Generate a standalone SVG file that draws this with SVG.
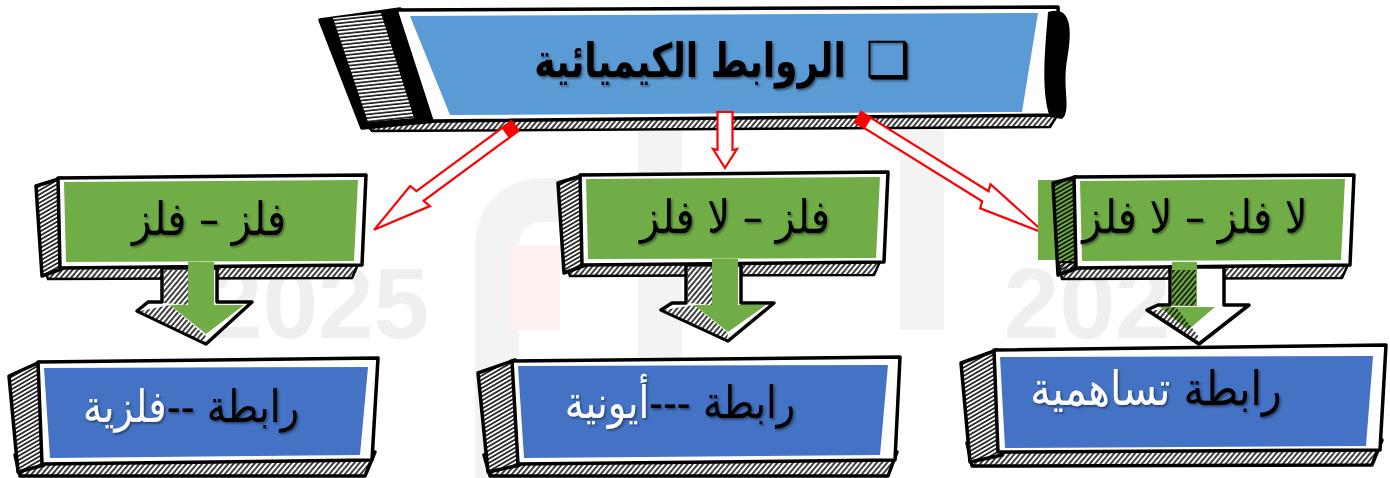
<svg xmlns="http://www.w3.org/2000/svg" width="1390" height="478" viewBox="0 0 1390 478">
<style>
.ol{stroke:#000;stroke-width:3.5;stroke-linejoin:round}
.ol2{stroke:#000;stroke-width:2.5;stroke-linejoin:round}
.wm{font-family:"Liberation Sans",Arial,sans-serif;font-weight:bold;font-size:100px;fill:#efefef}
.ar{font-family:"DejaVu Sans",sans-serif;text-anchor:middle;direction:rtl}
.gt{font-size:40px;fill:#000}
.red{fill:#fff;stroke:#ff0000;stroke-width:2.2;stroke-linejoin:miter}
</style>
<defs>
<pattern id="hh" patternUnits="userSpaceOnUse" width="8" height="3.6" patternTransform="rotate(-6)"><rect width="8" height="3.6" fill="#fff"/><line x1="0" y1="1" x2="8" y2="1" stroke="#000" stroke-width="1.5"/></pattern>
<pattern id="hs" patternUnits="userSpaceOnUse" width="8" height="3.6" patternTransform="rotate(-30)"><rect width="8" height="3.6" fill="#fff"/><line x1="0" y1="1" x2="8" y2="1" stroke="#000" stroke-width="1.5"/></pattern>
<pattern id="hst" patternUnits="userSpaceOnUse" width="8" height="3.6" patternTransform="rotate(-30)"><line x1="0" y1="1" x2="8" y2="1" stroke="#000" stroke-width="1.5"/></pattern>
<pattern id="hd" patternUnits="userSpaceOnUse" width="4" height="8" patternTransform="rotate(40)"><rect width="4" height="8" fill="#fff"/><line x1="1" y1="0" x2="1" y2="8" stroke="#000" stroke-width="1.5"/></pattern>
<pattern id="hdt" patternUnits="userSpaceOnUse" width="4" height="8" patternTransform="rotate(40)"><line x1="1" y1="0" x2="1" y2="8" stroke="#000" stroke-width="1.5"/></pattern>
<filter id="sh" x="-10%" y="-20%" width="120%" height="140%"><feDropShadow dx="1.5" dy="1.5" stdDeviation="1" flood-color="#000" flood-opacity="0.45"/></filter>
</defs>
<rect width="1390" height="478" fill="#fff"/>
<g id="watermark">
<path d="M497 478 V250 Q497 200 547 200 H655" fill="none" stroke="#f3f3f3" stroke-width="44"/>
<path d="M660 478 V130 Q660 85 705 85 H880 Q922 85 922 130 V330" fill="none" stroke="#f3f3f3" stroke-width="44"/>
<rect x="510" y="245" width="50" height="85" fill="#fdf0f0"/>
<text class="wm" x="318" y="338" text-anchor="middle">2025</text>
<text class="wm" x="1115" y="338" text-anchor="middle">2024</text>
</g>
<g id="title">
<polygon points="365,122 1058,114 1050,127 372,131" fill="url(#hd)" class="ol2"/>
<polygon points="320,20 400,9 436,121 362,128" fill="#000" class="ol"/>
<polygon points="333,18 381,13 414,118 368,122" fill="url(#hh)"/>
<polygon points="396,10 1058,7 1063,115 432,121" fill="#fff" class="ol"/>
<polygon points="410,16 1038,13 1022,112 450,115" fill="#5b9bd5"/>
<path d="M1048,12 C1068,6 1074,22 1067,60 C1062,90 1072,110 1062,119 L1050,117 C1040,90 1046,40 1048,12 Z" fill="#000"/>
<text class="ar" transform="translate(690,77) scale(1,1.3)" font-size="36" font-weight="bold" filter="url(#sh)">الروابط الكيميائية</text>
<text x="888" y="77" font-family="DejaVu Sans,sans-serif" font-size="50" text-anchor="middle" filter="url(#sh)">❑</text>
</g>
<g id="connectors">
<g transform="translate(515,126) rotate(143.6)">
<polygon class="red" points="0,-6 118,-6 116,-14 175,0 120,14 118,6 0,6"/>
<polygon points="0,-6 12,-6 12,6 0,6" fill="#ff0000"/>
</g>
<g transform="translate(725,112) rotate(90)">
<polygon class="red" points="0,-7.5 38,-7.5 37,-12 56,0 37,12 38,7.5 0,7.5"/>
</g>
<g transform="translate(858,117) rotate(31.9)">
<polygon class="red" points="0,-6 150,-6 148,-13 221,0 152,13 150,6 0,6"/>
<polygon points="0,-6 12,-6 12,6 0,6" fill="#ff0000"/>
</g>
</g>
<g id="g1">
<polygon points="42,262 360,260 352,278 48,279" fill="url(#hd)" class="ol2"/>
<polygon points="36,186 62,178 64,268 42,276" fill="url(#hs)" class="ol"/>
<polygon points="58,178 366,175 362,265 60,268" fill="#fff" class="ol"/>
<polygon points="64,182 358,180 354,261 66,262" fill="#70ad47"/>
<polygon points="162,268 217,268 217,302 252,302 206,344 137,311 148,302 162,302" fill="#fff" class="ol"/>
<polygon points="164,270 188,270 188,305 164,303" fill="url(#hd)"/>
<polygon points="140,311 170,305 206,336 205,342" fill="url(#hd)"/>
<rect x="188" y="262" width="26" height="44" fill="#70ad47"/>
<polygon points="170,305 244,305 206,334" fill="#70ad47"/>
<text class="ar gt" transform="translate(209,235) scale(1,1.15)" filter="url(#sh)">فلز  –  فلز</text>
</g>
<g id="g2">
<polygon points="564,259 882,257 874,275 570,276" fill="url(#hd)" class="ol2"/>
<polygon points="558,183 584,175 586,265 564,273" fill="url(#hs)" class="ol"/>
<polygon points="580,175 888,172 884,262 582,265" fill="#fff" class="ol"/>
<polygon points="586,179 880,177 876,258 588,259" fill="#70ad47"/>
<polygon points="686,265 741,265 741,303 774,303 728,341 661,310 672,303 686,303" fill="#fff" class="ol"/>
<polygon points="688,267 712,267 712,305 688,303" fill="url(#hd)"/>
<polygon points="664,310 694,305 728,333 727,339" fill="url(#hd)"/>
<rect x="712" y="259" width="26" height="47" fill="#70ad47"/>
<polygon points="694,305 766,305 728,332" fill="#70ad47"/>
<text class="ar gt" transform="translate(735,233) scale(1,1.15)" filter="url(#sh)">فلز – لا فلز</text>
</g>
<g id="g3">
<polygon points="1058,262 1350,260 1342,278 1062,279" fill="url(#hd)" class="ol2"/>
<rect x="1038" y="180" width="45" height="80" fill="#70ad47"/>
<polygon points="1053,183 1076,177 1078,268 1058,275" fill="url(#hst)" class="ol"/>
<polygon points="1074,177 1354,175 1350,265 1076,268" fill="#fff" class="ol"/>
<polygon points="1080,181 1345,179 1341,260 1082,261" fill="#70ad47"/>
<polygon points="1170,267 1224,267 1224,305 1249,305 1199,344 1147,310 1158,305 1170,305" fill="#fff" class="ol"/>
<rect x="1172" y="262" width="25" height="44" fill="#70ad47"/>
<polygon points="1160,307 1215,307 1188,330" fill="#70ad47"/>
<polygon points="1172,270 1196,270 1196,306 1172,305" fill="url(#hdt)"/>
<polygon points="1150,311 1176,307 1199,337 1197,343" fill="url(#hdt)"/>
<text class="ar gt" transform="translate(1195,233) scale(1,1.15)" filter="url(#sh)">لا فلز – لا فلز</text>
</g>
<g id="b1">
<polygon points="15,455 375,452 365,476 20,476" fill="url(#hd)" class="ol"/>
<polygon points="9,376 40,362 44,465 18,472" fill="url(#hs)" class="ol"/>
<polygon points="38,362 378,358 372,460 42,464" fill="#fff" class="ol"/>
<polygon points="44,368 368,367 360,455 50,458" fill="#4472c4"/>
<text class="ar" font-size="38.5" transform="translate(191,422) scale(1,1.15)" filter="url(#sh)"><tspan fill="#000">رابطة --</tspan><tspan fill="#fff">فلزية</tspan></text>
</g>
<g id="b2">
<polygon points="484,455 897,452 888,476 490,476" fill="url(#hd)" class="ol"/>
<polygon points="478,373 515,360 520,465 488,472" fill="url(#hs)" class="ol"/>
<polygon points="512,361 900,357 895,460 518,464" fill="#fff" class="ol"/>
<polygon points="518,366 888,365 880,455 524,458" fill="#4472c4"/>
<text class="ar" font-size="38.5" transform="translate(680,418) scale(1,1.15)" filter="url(#sh)"><tspan fill="#000">رابطة ---</tspan><tspan fill="#fff">أيونية</tspan></text>
</g>
<g id="b3">
<polygon points="967,443 1382,440 1372,465 972,466" fill="url(#hd)" class="ol"/>
<polygon points="961,363 997,350 1002,455 970,462" fill="url(#hs)" class="ol"/>
<polygon points="994,350 1386,345 1380,450 998,452" fill="#fff" class="ol"/>
<polygon points="1000,357 1373,356 1366,446 1005,448" fill="#4472c4"/>
<text class="ar" font-size="41" transform="translate(1156,405) scale(1,1.15)" filter="url(#sh)"><tspan fill="#000">رابطة </tspan><tspan fill="#fff">تساهمية</tspan></text>
</g>
</svg>
